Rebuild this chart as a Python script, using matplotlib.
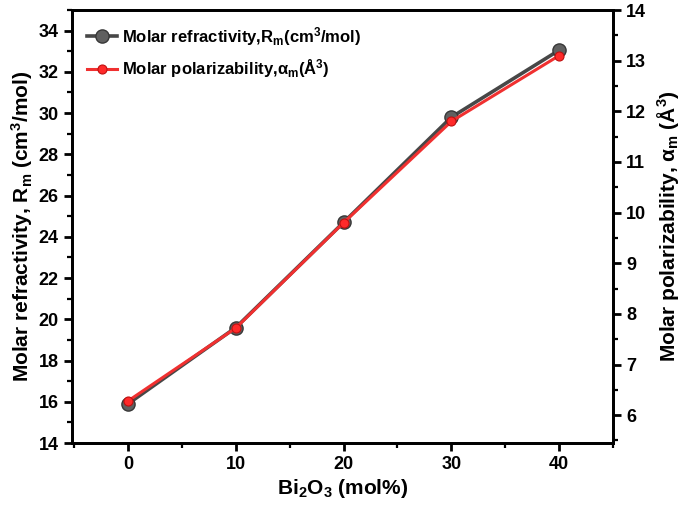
import numpy as np
import matplotlib
matplotlib.use("Agg")
import matplotlib.pyplot as plt
from matplotlib.ticker import MultipleLocator

# data
bi2o3 = [0, 10, 20, 30, 40]
molar_refr = [15.9, 19.6, 24.7, 29.8, 33.05]
molar_pol = [6.28, 7.72, 9.8, 11.8, 13.1]

plt.rcParams['font.family'] = ['Liberation Sans', 'DejaVu Sans']
plt.rcParams['font.weight'] = 'bold'
plt.rcParams['mathtext.fontset'] = 'custom'
plt.rcParams['mathtext.rm'] = 'Liberation Sans:bold'
plt.rcParams['mathtext.it'] = 'Liberation Sans:bold'
plt.rcParams['mathtext.bf'] = 'Liberation Sans:bold'

fig = plt.figure(figsize=(6.85, 5.09), dpi=100)
ax = fig.add_axes([72/685, 1-443/509, (613-72)/685, (443-10)/509])
ax2 = ax.twinx()

l1, = ax.plot(bi2o3, molar_refr, color='#474747', lw=2.6, marker='o', ms=9.5,
              mfc='#606060', mec='#383838', mew=1, label=r'Molar refractivity,R$_{m}$(cm$^{3}$/mol)')
l2, = ax2.plot(bi2o3, molar_pol, color='#f03030', lw=2.2, marker='o', ms=6.5,
               mfc='#ff2a2a', mec='#c01010', mew=0.8, label=r'Molar polarizability,$\alpha_{m}$(Å$^{3}$)')

ax.set_xlim(-5.2, 45)
ax.set_ylim(14, 35)
ax2.set_ylim(5.45, 14)

ax.xaxis.set_major_locator(MultipleLocator(10))
ax.xaxis.set_minor_locator(MultipleLocator(5))
ax.yaxis.set_major_locator(MultipleLocator(2))
ax.yaxis.set_minor_locator(MultipleLocator(1))
ax2.yaxis.set_major_locator(MultipleLocator(1))
ax2.yaxis.set_minor_locator(MultipleLocator(0.5))

for a in (ax, ax2):
    for s in a.spines.values():
        s.set_linewidth(2)
    a.tick_params(which='major', direction='out', length=6, width=2, labelsize=13)
    a.tick_params(which='minor', direction='out', length=3.5, width=1.6)
ax.tick_params(axis='y', which='both', right=False)
ax.tick_params(axis='x', which='both', top=False)

ax.set_xlabel(r'Bi$_{2}$O$_{3}$ (mol%)', fontsize=15, fontweight='bold', labelpad=3)
ax.set_ylabel(r'Molar refractivity, R$_{m}$ (cm$^{3}$/mol)', fontsize=15, fontweight='bold', labelpad=3)
ax2.set_ylabel(r'Molar polarizability, $\alpha_{m}$ (Å$^{3}$)', fontsize=15, fontweight='bold', labelpad=6)

ax2.legend(handles=[l1, l2], loc='upper left', frameon=False,
           handlelength=1.8, handletextpad=0.3, borderaxespad=0.5, labelspacing=0.55,
           prop={'weight': 'bold', 'size': 12})

fig.savefig('out.png', dpi=100)
